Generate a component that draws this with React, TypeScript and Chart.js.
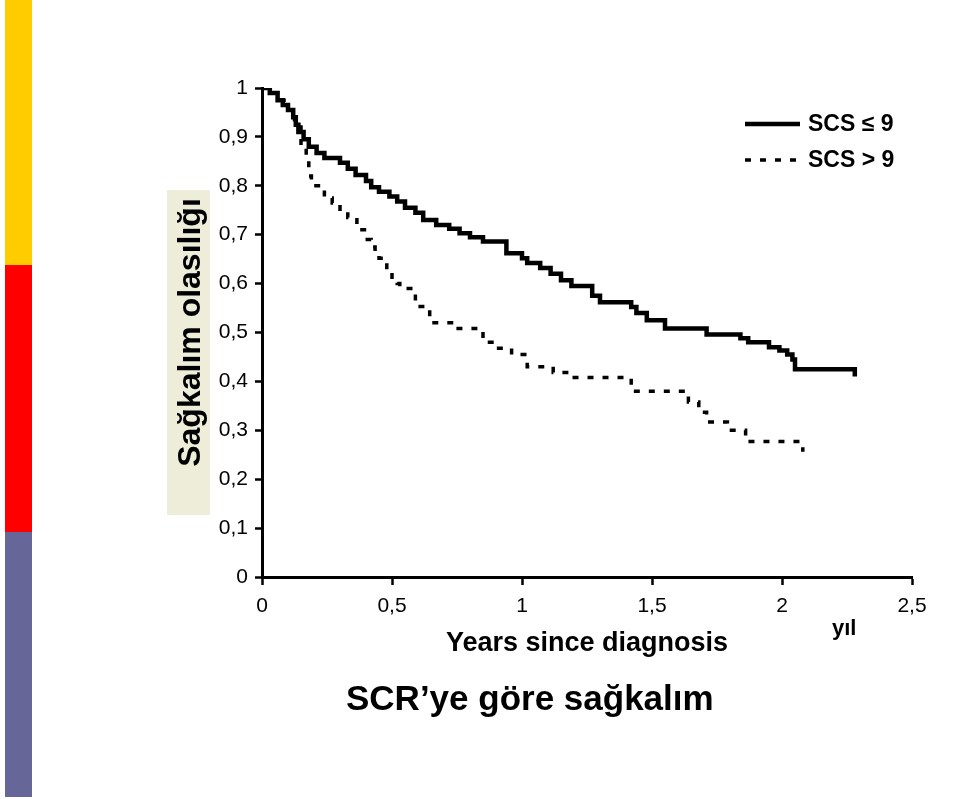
import React, { useEffect, useRef } from "react";
import { Chart, registerables } from "chart.js";

Chart.register(...registerables);

// Kaplan–Meier survival, SCS ≤ 9 (solid)
const lowScoreTimes = [
  0, 0.03, 0.06, 0.08, 0.1, 0.12, 0.13, 0.14, 0.16, 0.18, 0.21, 0.24, 0.3, 0.33, 0.36, 0.4,
  0.42, 0.45, 0.49, 0.52, 0.55, 0.59, 0.62, 0.67, 0.72, 0.76, 0.8, 0.85, 0.94, 1.0, 1.02,
  1.07, 1.11, 1.15, 1.19, 1.27, 1.3, 1.42, 1.44, 1.48, 1.55, 1.71, 1.84, 1.87, 1.95, 1.99,
  2.02, 2.04, 2.05, 2.28,
];
const lowScoreSurvival = [
  1, 0.99, 0.975, 0.965, 0.955, 0.94, 0.925, 0.91, 0.895, 0.88, 0.867, 0.857, 0.847, 0.835,
  0.822, 0.81, 0.797, 0.788, 0.778, 0.768, 0.755, 0.745, 0.73, 0.72, 0.712, 0.703, 0.695,
  0.686, 0.662, 0.652, 0.642, 0.632, 0.62, 0.607, 0.595, 0.575, 0.562, 0.552, 0.54, 0.525,
  0.508, 0.496, 0.488, 0.48, 0.47, 0.463, 0.455, 0.445, 0.425, 0.41,
];

// Kaplan–Meier survival, SCS > 9 (dashed)
const highScoreTimes = [
  0, 0.03, 0.06, 0.1, 0.125, 0.15, 0.17, 0.18, 0.19, 0.24, 0.27, 0.3, 0.33, 0.365, 0.405,
  0.42, 0.435, 0.45, 0.465, 0.48, 0.5, 0.52, 0.53, 0.59, 0.645, 0.74, 0.85, 0.9, 0.96, 1.02,
  1.12, 1.18, 1.42, 1.64, 1.68, 1.71, 1.79, 1.86, 2.08,
];
const highScoreSurvival = [
  1, 0.99, 0.975, 0.955, 0.92, 0.88, 0.855, 0.82, 0.8, 0.775, 0.765, 0.748, 0.735, 0.71, 0.69,
  0.675, 0.663, 0.652, 0.642, 0.628, 0.613, 0.6, 0.59, 0.553, 0.52, 0.508, 0.48, 0.468, 0.455,
  0.43, 0.418, 0.408, 0.38, 0.358, 0.337, 0.317, 0.3, 0.277, 0.256,
];

const seriesNames = ["SCS ≤ 9", "SCS > 9"];
const xAxisTicks = [0, 0.5, 1, 1.5, 2, 2.5];
const yAxisTicks = [0, 0.1, 0.2, 0.3, 0.4, 0.5, 0.6, 0.7, 0.8, 0.9, 1];
const xAxisTitle = "Years since diagnosis";
const yAxisTitle = "Sağkalım olasılığı";
const slideTitle = "SCR’ye göre sağkalım";
const unitText = "yıl";

const FONT = "'Liberation Sans', Arial, Helvetica, sans-serif";

const toPoints = (t: number[], s: number[]) => t.map((x, i) => ({ x, y: s[i] }));
const commaFormat = (v: number) => String(Number(v.toFixed(2))).replace(".", ",");

const curveLegend = {
  id: "curveLegend",
  afterDraw(chart: any) {
    const { ctx, chartArea } = chart;
    const x0 = chartArea.right - 167;
    chart.data.datasets.forEach((ds: any, i: number) => {
      const y = chartArea.top + 36 + i * 36;
      ctx.save();
      ctx.strokeStyle = ds.borderColor;
      ctx.lineWidth = ds.borderWidth;
      ctx.setLineDash(ds.borderDash || []);
      ctx.beginPath();
      ctx.moveTo(x0, y);
      ctx.lineTo(x0 + 55, y);
      ctx.stroke();
      ctx.setLineDash([]);
      ctx.fillStyle = "#000";
      ctx.font = `bold 23px ${FONT}`;
      ctx.textBaseline = "middle";
      ctx.textAlign = "left";
      ctx.fillText(ds.label, x0 + 63, y + 1);
      ctx.restore();
    });
  },
};

function SurvivalChart() {
  const ref = useRef<HTMLCanvasElement | null>(null);
  useEffect(() => {
    if (!ref.current) return;
    const chart = new Chart(ref.current, {
      type: "line",
      data: {
        datasets: [
          {
            label: seriesNames[0],
            data: toPoints(lowScoreTimes, lowScoreSurvival),
            borderColor: "#000",
            borderWidth: 4.5,
            stepped: true,
            pointRadius: 0,
            fill: false,
          },
          {
            label: seriesNames[1],
            data: toPoints(highScoreTimes, highScoreSurvival),
            borderColor: "#000",
            borderWidth: 3.5,
            borderDash: [6, 9],
            stepped: true,
            pointRadius: 0,
            fill: false,
          },
        ],
      },
      options: {
        animation: false,
        responsive: false,
        devicePixelRatio: 1,
        layout: { padding: { left: 0, top: 88, right: 48, bottom: 0 } },
        plugins: { legend: { display: false }, tooltip: { enabled: false } },
        scales: {
          x: {
            type: "linear",
            min: 0,
            max: 2.5,
            afterBuildTicks: (scale: any) => {
              scale.ticks = xAxisTicks.map((v) => ({ value: v }));
            },
            afterFit: (scale: any) => {
              scale.height = 222;
            },
            ticks: {
              callback: (v: any) => commaFormat(Number(v)),
              color: "#000",
              font: { family: FONT, size: 21 },
              padding: 9,
              maxRotation: 0,
            },
            grid: {
              display: true,
              drawOnChartArea: false,
              drawTicks: true,
              tickLength: 8,
              tickWidth: 2.5,
              tickColor: "#000",
            },
            border: { display: true, color: "#000", width: 3 },
            title: {
              display: true,
              text: xAxisTitle,
              color: "#000",
              font: { family: FONT, size: 27, weight: "bold" },
              padding: { top: 0, bottom: 139 },
            },
          },
          y: {
            type: "linear",
            min: 0,
            max: 1,
            afterBuildTicks: (scale: any) => {
              scale.ticks = yAxisTicks.map((v) => ({ value: v }));
            },
            afterFit: (scale: any) => {
              scale.width = 262;
            },
            ticks: {
              callback: (v: any) => commaFormat(Number(v)),
              color: "#000",
              font: { family: FONT, size: 21 },
              padding: 7,
            },
            grid: {
              display: true,
              drawOnChartArea: false,
              drawTicks: true,
              tickLength: 7,
              tickWidth: 2.5,
              tickColor: "#000",
            },
            border: { display: true, color: "#000", width: 3 },
            title: {
              display: true,
              text: yAxisTitle,
              color: "#000",
              font: { family: FONT, size: 32, weight: "bold" },
              padding: { top: 172, bottom: 0 },
            },
          },
        },
      },
      plugins: [curveLegend],
    } as any);
    return () => chart.destroy();
  }, []);
  return (
    <canvas
      ref={ref}
      width={960}
      height={799}
      style={{ position: "absolute", left: 0, top: 0, width: 960, height: 799 }}
    />
  );
}

export default function App() {
  return (
    <div
      style={{
        position: "absolute",
        left: 0,
        top: 0,
        width: 960,
        height: 799,
        background: "#fff",
        overflow: "hidden",
        fontFamily: FONT,
      }}
    >
      <div style={{ position: "absolute", left: 5, top: 0, width: 27, height: 265, background: "#FFCC00" }} />
      <div style={{ position: "absolute", left: 5, top: 265, width: 27, height: 267, background: "#FF0000" }} />
      <div style={{ position: "absolute", left: 5, top: 532, width: 27, height: 265, background: "#666699" }} />
      <div style={{ position: "absolute", left: 167, top: 190, width: 43, height: 325, background: "#EEEDD9" }} />
      <SurvivalChart />
      <div
        style={{
          position: "absolute",
          left: 832,
          top: 617,
          fontSize: 22,
          fontWeight: "bold",
          lineHeight: 1,
          color: "#000",
        }}
      >
        {unitText}
      </div>
      <div
        style={{
          position: "absolute",
          left: 346,
          top: 680,
          fontSize: 35,
          fontWeight: "bold",
          lineHeight: 1,
          color: "#000",
          whiteSpace: "nowrap",
        }}
      >
        {slideTitle}
      </div>
    </div>
  );
}
